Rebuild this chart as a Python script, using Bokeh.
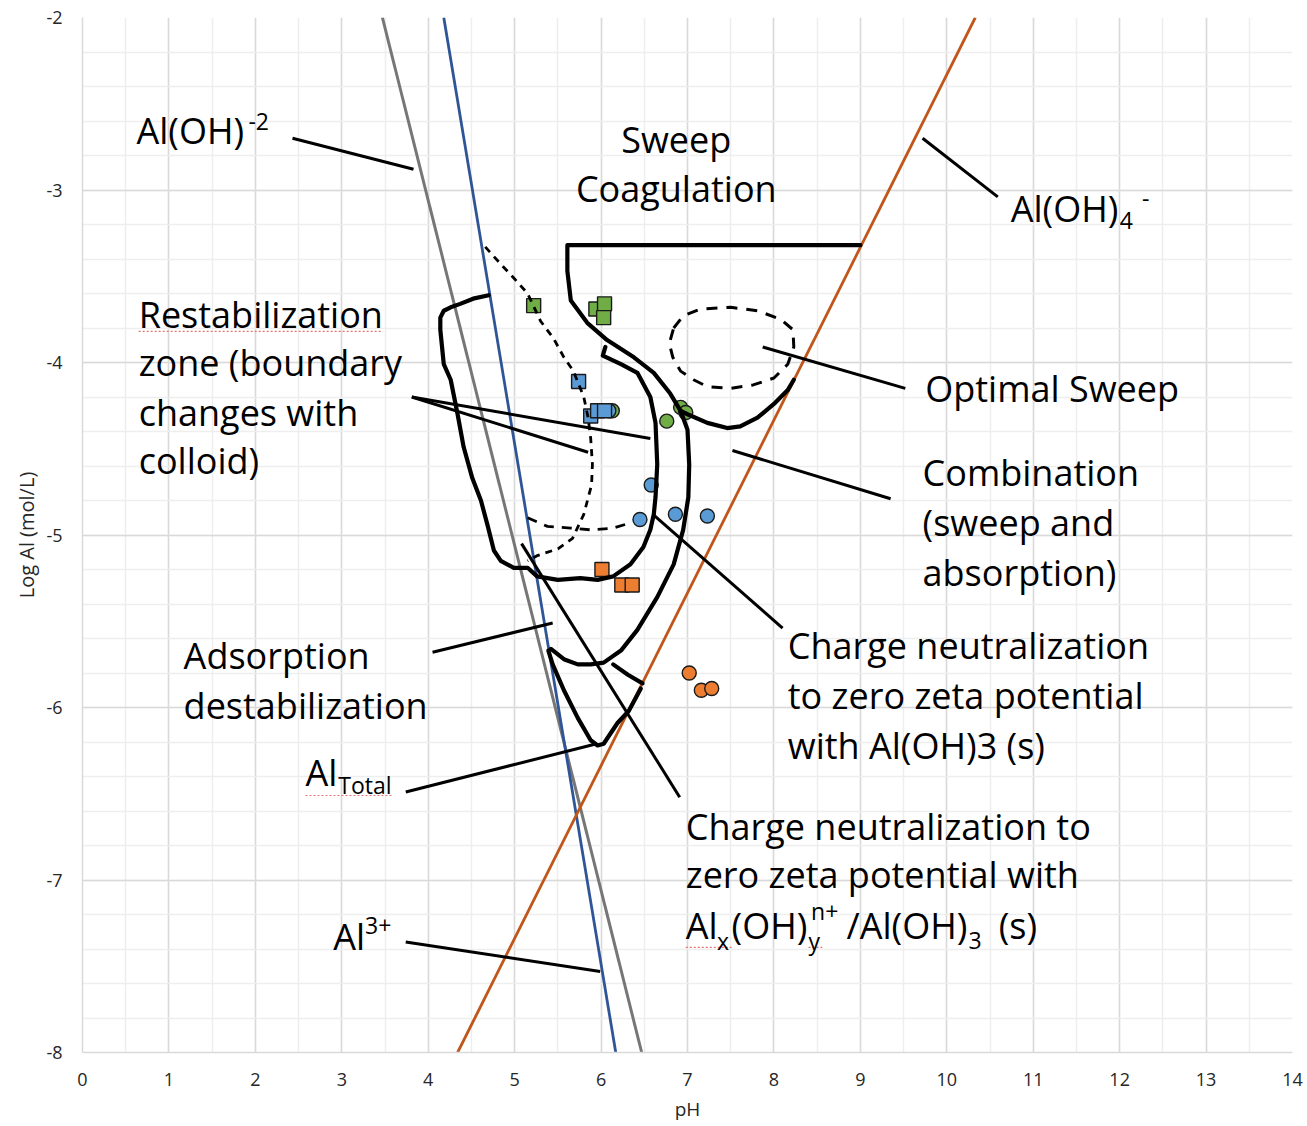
from bokeh.plotting import figure
from bokeh.embed import file_html
from bokeh.resources import INLINE
from bokeh.core.properties import value
from bokeh.models import SingleIntervalTicker, Range1d, PrintfTickFormatter

# ---------------- data (pH, log Al in mol/L) ----------------
# solubility lines
al3_ph = [4.18, 6.17]
al3_log = [-2.0, -8.0]
aloh2_ph = [3.47, 6.47]
aloh2_log = [-2.0, -8.0]
aloh4_ph = [4.34, 10.33]
aloh4_log = [-8.0, -2.0]

# measured points
green_sq_ph = [5.22, 5.94, 6.04, 6.03]
green_sq_log = [-3.67, -3.69, -3.66, -3.74]
green_ci_ph = [6.76, 6.92, 6.98, 6.13]
green_ci_log = [-4.34, -4.26, -4.29, -4.28]
blue_sq_ph = [5.74, 5.88, 5.96, 6.04]
blue_sq_log = [-4.11, -4.31, -4.28, -4.28]
blue_ci_ph = [6.09, 6.58, 6.45, 6.86, 7.23]
blue_ci_log = [-4.28, -4.71, -4.91, -4.88, -4.89]
orange_sq_ph = [6.01, 6.24, 6.36]
orange_sq_log = [-5.20, -5.29, -5.29]
orange_ci_ph = [7.02, 7.16, 7.28]
orange_ci_log = [-5.80, -5.90, -5.89]

# hand-drawn region boundaries
sweep_ph = [9.00, 5.61, 5.61, 5.65, 5.84, 6.07, 6.38, 6.61, 6.80, 6.92, 7.00, 7.02, 7.01,
            6.95, 6.84, 6.65, 6.42, 6.23, 6.03, 5.88, 5.73, 5.57, 5.42]
sweep_log = [-3.32, -3.32, -3.47, -3.64, -3.77, -3.87, -3.97, -4.06, -4.18, -4.28, -4.39, -4.59, -4.78,
             -4.97, -5.17, -5.36, -5.55, -5.67, -5.74, -5.75, -5.75, -5.72, -5.66]
sweep_bottom_ph = [6.92, 7.00, 7.23, 7.46, 7.61, 7.81, 8.00, 8.16, 8.23]
sweep_bottom_log = [-4.28, -4.30, -4.35, -4.38, -4.37, -4.32, -4.24, -4.16, -4.10]
restab_ph = [4.70, 4.52, 4.37, 4.26, 4.18, 4.14, 4.14, 4.18, 4.26, 4.34, 4.41, 4.51, 4.61, 4.69,
             4.76, 4.84, 4.99, 5.15, 5.26, 5.50, 5.76, 5.96, 6.14, 6.34, 6.49, 6.57, 6.61, 6.63,
             6.65, 6.63, 6.57, 6.42, 6.23, 6.02, 6.05]
restab_log = [-3.61, -3.63, -3.66, -3.68, -3.70, -3.74, -3.81, -4.01, -4.10, -4.30, -4.49, -4.67,
              -4.80, -4.95, -5.09, -5.15, -5.19, -5.19, -5.24, -5.26, -5.25, -5.26, -5.24, -5.17,
              -5.07, -4.97, -4.88, -4.78, -4.59, -4.35, -4.20, -4.06, -4.01, -3.96, -3.91]
small_arc_ph = [6.14, 6.31, 6.48]
small_arc_log = [-5.75, -5.81, -5.86]
adsorb_ph = [5.39, 5.44, 5.57, 5.73, 5.88, 5.96, 6.03, 6.19, 6.32, 6.46]
adsorb_log = [-5.67, -5.75, -5.90, -6.06, -6.19, -6.22, -6.21, -6.09, -6.02, -5.89]
restab_dash_ph = [4.66, 4.84, 4.99, 5.15, 5.30, 5.45, 5.57, 5.68, 5.80, 5.85, 5.88, 5.90, 5.89,
                  5.80, 5.67, 5.50, 5.26, 5.15]
restab_dash_log = [-3.33, -3.43, -3.51, -3.60, -3.76, -3.86, -3.97, -4.05, -4.20, -4.32, -4.44,
                   -4.59, -4.71, -4.88, -5.02, -5.08, -5.12, -5.15]
cn_dash_ph = [5.15, 5.38, 5.65, 5.88, 6.14, 6.34]
cn_dash_log = [-4.90, -4.95, -4.96, -4.97, -4.96, -4.93]
optimal_ph = [6.84, 6.95, 7.15, 7.50, 7.81, 8.08, 8.22, 8.23, 8.16, 8.00, 7.76, 7.50, 7.23,
              7.07, 6.92, 6.83, 6.79, 6.84]
optimal_log = [-3.80, -3.73, -3.69, -3.68, -3.70, -3.75, -3.81, -3.91, -4.01, -4.09, -4.13,
               -4.15, -4.14, -4.10, -4.05, -3.97, -3.89, -3.80]

# leader lines (start, end)
leader_x0 = [2.43, 9.72, 3.81, 3.81, 7.87, 7.52, 6.60, 5.08, 4.05, 3.74, 3.74]
leader_y0 = [-2.70, -2.70, -4.20, -4.20, -3.91, -4.51, -4.88, -5.05, -5.68, -6.49, -7.36]
leader_x1 = [3.83, 10.59, 6.57, 5.85, 9.52, 9.35, 8.10, 6.91, 5.44, 5.95, 5.99]
leader_y1 = [-2.88, -3.04, -4.44, -4.52, -4.15, -4.79, -5.54, -6.52, -5.51, -6.21, -7.53]

# texts
x_title = "pH"
y_title = "Log Al (mol/L)"
label_lines = ["Restabilization", "zone (boundary", "changes with", "colloid)",
               "Optimal Sweep", "Combination", "(sweep and", "absorption)",
               "Charge neutralization", "to zero zeta potential", "with Al(OH)3 (s)",
               "Adsorption", "destabilization",
               "Charge neutralization to", "zero zeta potential with"]
sweep_lines = ["Sweep", "Coagulation"]

# ---------------- figure ----------------
p = figure(width=1307, height=1126, x_range=Range1d(0, 14), y_range=Range1d(-8, -2),
           output_backend="svg", toolbar_location=None,
           min_border_left=82, min_border_right=15, min_border_top=17, min_border_bottom=74)
p.outline_line_color = None
p.background_fill_color = "white"
p.border_fill_color = "white"

p.xaxis.ticker = SingleIntervalTicker(interval=1, num_minor_ticks=2)
p.yaxis.ticker = SingleIntervalTicker(interval=1, num_minor_ticks=5)
for ax in (p.xaxis, p.yaxis):
    ax.formatter = PrintfTickFormatter(format="%d")
    ax.axis_line_color = "#d9d9d9"
    ax.axis_line_width = 1.5
    ax.major_tick_line_color = None
    ax.minor_tick_line_color = None
    ax.major_label_text_font = "Open Sans"
    ax.major_label_text_font_size = "18px"
    ax.major_label_text_color = "#262626"
    ax.axis_label_text_font = "Open Sans"
    ax.axis_label_text_font_style = "normal"
    ax.axis_label_text_color = "#262626"
p.xaxis.axis_label = x_title
p.yaxis.axis_label = y_title
p.xaxis.axis_label_text_font_size = "19px"
p.yaxis.axis_label_text_font_size = "20px"
p.xaxis.major_label_standoff = 14
p.xaxis.axis_label_standoff = 7
p.yaxis.major_label_standoff = 14
p.yaxis.axis_label_standoff = 3

for g in (p.xgrid, p.ygrid):
    g.grid_line_color = "#d9d9d9"
    g.grid_line_width = 1.5
    g.minor_grid_line_color = "#eeeeee"
    g.minor_grid_line_width = 1.5

# solubility lines
p.line(aloh2_ph, aloh2_log, line_color="#767676", line_width=3)
p.line(al3_ph, al3_log, line_color="#2F5597", line_width=2.8)
p.line(aloh4_ph, aloh4_log, line_color="#C0561A", line_width=2.8)

# points
mk = dict(line_color="#1a1a1a", line_width=1.4)
p.scatter(green_ci_ph, green_ci_log, marker="circle", size=14, fill_color="#70AD47", **mk)
p.scatter(blue_ci_ph, blue_ci_log, marker="circle", size=14, fill_color="#5B9BD5", **mk)
p.scatter(orange_ci_ph, orange_ci_log, marker="circle", size=14, fill_color="#ED7D31", **mk)
p.scatter(green_sq_ph, green_sq_log, marker="square", size=14, fill_color="#70AD47", **mk)
p.scatter(blue_sq_ph, blue_sq_log, marker="square", size=14, fill_color="#5B9BD5", **mk)
p.scatter(orange_sq_ph, orange_sq_log, marker="square", size=14, fill_color="#ED7D31", **mk)

# hand-drawn regions
thick = dict(line_color="black", line_width=4.2, line_join="round", line_cap="round")
p.line(sweep_ph, sweep_log, **thick)
p.line(sweep_bottom_ph, sweep_bottom_log, **thick)
p.line(restab_ph, restab_log, **thick)
p.line(small_arc_ph, small_arc_log, **thick)
p.line(adsorb_ph, adsorb_log, **thick)
p.line(restab_dash_ph, restab_dash_log, line_color="black", line_width=2.8, line_dash="7 6")
p.line(cn_dash_ph, cn_dash_log, line_color="black", line_width=2.8, line_dash="10 8")
p.line(optimal_ph, optimal_log, line_color="black", line_width=3, line_dash="11 9")
p.segment(leader_x0, leader_y0, leader_x1, leader_y1, line_color="black", line_width=3)

# spell-check underlines
p.segment([0.65, 2.58, 6.98, 8.40], [-3.82, -6.51, -7.39, -7.39],
          [3.45, 3.59, 7.51, 8.56], [-3.82, -6.51, -7.39, -7.39],
          line_color="#e57373", line_width=1.2, line_dash="2 2")

# labels
F = value("Open Sans")
def txt(xs, ys, texts, size, align="left"):
    p.text(x=xs, y=ys, text=texts, text_font=F, text_font_size=value(f"{size}px"),
           text_align=align, text_baseline="middle", text_color="black")

big, small = 36, 23
txt([6.87, 6.87], [-2.71, -2.99], sweep_lines, big, "center")
txt([0.65, 0.65, 0.65, 0.65, 9.75, 9.72, 9.72, 9.72, 8.16, 8.16, 8.16, 1.17, 1.17, 6.98, 6.98],
    [-3.72, -4.00, -4.29, -4.57, -4.15, -4.64, -4.93, -5.22, -5.64, -5.93, -6.22, -5.70, -5.99,
     -6.69, -6.97], label_lines, big)
# chemical formulas in pieces
txt([0.625, 10.74, 2.58, 2.90, 6.98, 7.51, 8.84, 10.60],
    [-2.655, -3.107, -6.377, -7.328, -7.264, -7.264, -7.264, -7.264],
    ["Al(OH)", "Al(OH)", "Al", "Al", "Al", "(OH)", "/Al(OH)", "(s)"], big)
txt([1.92, 12.00, 12.26, 2.96, 3.27, 7.34, 8.40, 8.43, 10.25],
    [-2.600, -3.177, -3.050, -6.452, -7.264, -7.351, -7.351, -7.177, -7.351],
    ["-2", "4", "-", "Total", "3+", "x", "y", "n+", "3"], small)

open("out.html", "w").write(file_html(p, INLINE))
